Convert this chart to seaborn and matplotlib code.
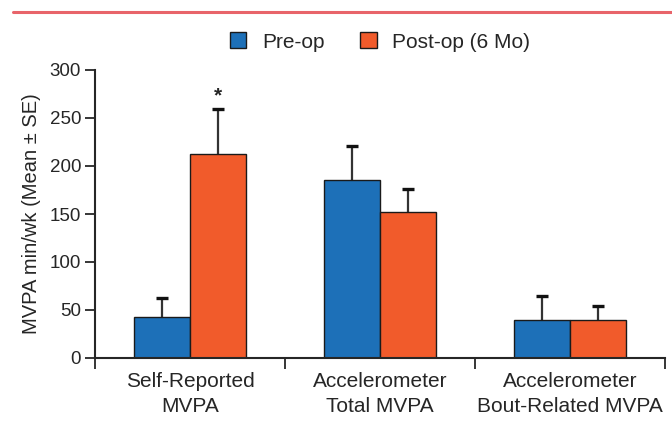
import matplotlib
matplotlib.use("Agg")
import matplotlib.pyplot as plt
from matplotlib.lines import Line2D
from matplotlib.patches import Patch
import seaborn as sns
import pandas as pd
import numpy as np

categories = ["Self-Reported\nMVPA", "Accelerometer\nTotal MVPA", "Accelerometer\nBout-Related MVPA"]
groups = ["Pre-op", "Post-op (6 Mo)"]
pre_mean = [43, 185, 40]
pre_se = [19, 36, 25]
post_mean = [213, 152, 40]
post_se = [46, 24, 14]
y_ticks = [0, 50, 100, 150, 200, 250, 300]
colors = {"Pre-op": "#1d70b8", "Post-op (6 Mo)": "#f15b2b"}

sns.set_style("white")
plt.rcParams["font.family"] = ["Liberation Sans", "DejaVu Sans"]

df = pd.DataFrame({
    "category": categories * 2,
    "group": [groups[0]] * 3 + [groups[1]] * 3,
    "value": pre_mean + post_mean,
    "se": pre_se + post_se,
})

fig = plt.figure(figsize=(6.72, 4.41), dpi=100)
ax = fig.add_axes([95 / 672, 1 - 358 / 441, 570 / 672, 288 / 441])

sns.barplot(data=df, x="category", y="value", hue="group", palette=colors,
            saturation=1, width=0.59, edgecolor="#1a1a1a", linewidth=1.0,
            errorbar=None, ax=ax, legend=False, zorder=2)

# error bars (upward only)
bars = [p for p in ax.patches if p.get_height() > 0]
for i, g in enumerate(groups):
    sub = df[df["group"] == g]
    for j, (_, row) in enumerate(sub.iterrows()):
        p = bars[i * 3 + j]
        xc = p.get_x() + p.get_width() / 2
        top = row["value"] + row["se"]
        ax.plot([xc, xc], [row["value"], top], color="#333333", lw=1.6,
                solid_capstyle="butt", zorder=1, clip_on=False)
        ax.plot([xc], [top], marker="_", ms=9, mew=2.4, color="#111111",
                zorder=1, clip_on=False)

# asterisk
p = bars[3]
ax.text(p.get_x() + p.get_width() / 2, post_mean[0] + post_se[0] + 4, "*",
        ha="center", va="bottom", fontsize=15, fontweight="bold")

ax.set_xlim(-0.5, 2.5)
ax.set_ylim(0, 300)
ax.set_yticks(y_ticks)
ax.tick_params(axis="y", labelsize=13.5, length=7, width=1.3, direction="out",
               left=True, pad=3)
ax.set_xticks([0, 1, 2])
ax.set_xticklabels(categories)
ax.tick_params(axis="x", which="major", labelsize=15, length=0, pad=10)
ax.set_xticks([-0.5, 0.5, 1.5, 2.5], minor=True)
ax.tick_params(axis="x", which="minor", length=8, width=1.3, direction="out",
               bottom=True)
for lab in ax.get_xticklabels():
    lab.set_linespacing(1.4)

sns.despine(ax=ax)
ax.spines["left"].set_linewidth(1.5)
ax.spines["bottom"].set_linewidth(1.5)
ax.spines["left"].set_bounds(0, 300)
ax.set_xlabel("")
ax.set_ylabel("MVPA min/wk (Mean ± SE)", fontsize=14.5, labelpad=6)

handles = [Patch(facecolor=colors[g], edgecolor="#1a1a1a", linewidth=1.0) for g in groups]
fig.legend(handles, groups, loc="center", bbox_to_anchor=(380 / 672, 1 - 42 / 441),
           ncol=2, frameon=False, fontsize=15, handlelength=0.8, handleheight=0.8,
           handletextpad=0.75, columnspacing=1.7)

fig.add_artist(Line2D([13 / 672, 1.0], [1 - 12 / 441] * 2, color="#e8646a", lw=2.2))

fig.savefig("out.png", dpi=100)
